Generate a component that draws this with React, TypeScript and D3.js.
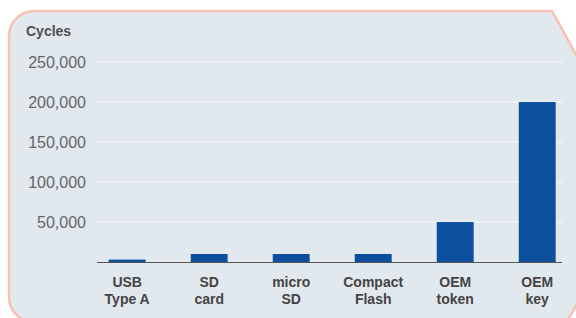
import React from "react";
import * as d3 from "d3";

// Endurance (write cycles) by device type
const devices: string[][] = [
  ["USB", "Type A"],
  ["SD", "card"],
  ["micro", "SD"],
  ["Compact", "Flash"],
  ["OEM", "token"],
  ["OEM", "key"],
];
const cycles: number[] = [3000, 10000, 10000, 10000, 50000, 200000];
const yTicks: number[] = [50000, 100000, 150000, 200000, 250000];

const W = 576;
const H = 318;
const font = "'Liberation Sans', Arial, Helvetica, sans-serif";

export default function App() {
  const keys = devices.map((d) => d.join(" "));
  const x = d3.scaleBand<string>()
    .domain(keys)
    .range([97, 562])
    .paddingInner(0.55)
    .paddingOuter(0.11)
    .align(0.65);
  const y = d3.scaleLinear().domain([0, 250000]).range([262, 62]);
  const fmt = d3.format(",");

  const panel =
    "M 9,36 A 25 25 0 0 1 34,11 L 552,11 L 590,80 L 590,282 L 566.7,322 L 34,322 A 25 25 0 0 1 9,297 Z";

  return (
    <div style={{ position: "absolute", left: 0, top: 0 }}>
      <svg width={W} height={H} style={{ display: "block", background: "#fff" }}>
        <path d={panel} fill="#e1e8ee" stroke="#f6c2b1" strokeWidth={2.5} />

        <text x={26} y={36} fontFamily={font} fontSize={14} fontWeight="bold" fill="#505050">
          Cycles
        </text>

        {/* gridlines + tick labels */}
        {yTicks.map((t) => (
          <g key={t}>
            <line x1={97} x2={563} y1={y(t)} y2={y(t)} stroke="#f0f4f7" strokeWidth={1.5} />
            <text
              x={86}
              y={y(t)}
              dy="0.36em"
              textAnchor="end"
              fontFamily={font}
              fontSize={16}
              fill="#666"
            >
              {fmt(t)}
            </text>
          </g>
        ))}

        {/* bars */}
        {cycles.map((v, i) => (
          <rect
            key={keys[i]}
            x={x(keys[i])!}
            y={y(v)}
            width={x.bandwidth()}
            height={y(0) - y(v)}
            fill="#0c4f9c"
          />
        ))}

        {/* baseline */}
        <line x1={97} x2={562} y1={y(0) + 0.5} y2={y(0) + 0.5} stroke="#555" strokeWidth={1} />

        {/* category labels */}
        {devices.map((d, i) => (
          <text
            key={keys[i]}
            x={x(keys[i])! + x.bandwidth() / 2}
            textAnchor="middle"
            fontFamily={font}
            fontSize={14}
            fontWeight="bold"
            fill="#444"
          >
            <tspan x={x(keys[i])! + x.bandwidth() / 2} y={287}>{d[0]}</tspan>
            <tspan x={x(keys[i])! + x.bandwidth() / 2} y={304}>{d[1]}</tspan>
          </text>
        ))}
      </svg>
    </div>
  );
}
